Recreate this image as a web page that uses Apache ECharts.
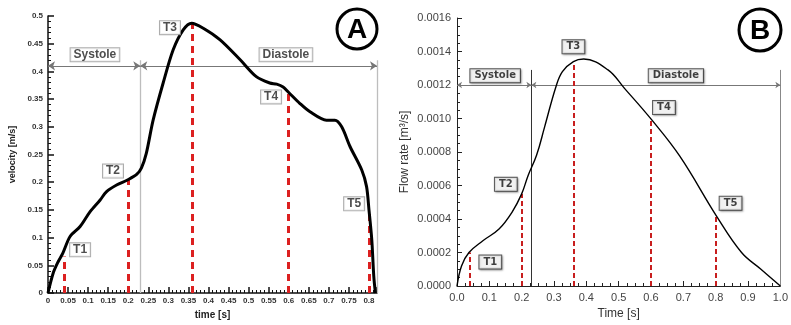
<!DOCTYPE html>
<html><head><meta charset="utf-8">
<script src="https://cdn.jsdelivr.net/npm/echarts@6/dist/echarts.min.js"></script>
<style>html,body{margin:0;padding:0;background:#fff}#c{width:791px;height:325px}</style>
</head><body><div id="c"></div>
<script>
// Panel A: velocity [m/s] vs time [s]
const timeA = [0,0.013,0.025,0.037,0.055,0.08,0.105,0.13,0.146,0.171,0.198,0.221,0.233,0.245,0.262,0.287,0.312,0.337,0.358,0.387,0.429,0.479,0.52,0.553,0.57,0.586,0.6,0.628,0.653,0.694,0.715,0.732,0.753,0.782,0.794,0.80,0.807,0.812,0.816];
const velA  = [0,0.036,0.056,0.072,0.102,0.12,0.147,0.168,0.183,0.195,0.204,0.214,0.226,0.252,0.312,0.379,0.439,0.475,0.487,0.478,0.457,0.421,0.39,0.379,0.377,0.372,0.362,0.342,0.327,0.312,0.312,0.30,0.264,0.222,0.192,0.15,0.096,0.03,0];
// Panel B: flow rate [m3/s] vs time [s]
const timeB = [0,0.014,0.037,0.08,0.13,0.17,0.2,0.22,0.246,0.271,0.306,0.326,0.36,0.392,0.467,0.518,0.603,0.689,0.805,0.88,0.94,1.0];
const flowB = [0,0.00012,0.0002,0.00027,0.00034,0.00044,0.00055,0.00066,0.00078,0.00095,0.00119,0.00128,0.00134,0.001355,0.00129,0.00118,0.00099,0.000775,0.00041,0.0002,0.0001,0];
// Time instants T1..T5
const markNames = ['T1','T2','T3','T4','T5'];
const markTimes = [0.04,0.2,0.36,0.6,0.8];
const markVelA  = [0.066,0.204,0.487,0.362,0.15];
const markFlowB = [0.0002,0.00055,0.00134,0.001,0.00042];
// phase split
const systoleEnd = 0.23;
const phaseLevelA = 0.41, phaseTopA = 0.42, endA = 0.82;
const phaseLevelB = 0.0012, phaseTopB = 0.00129, endB = 1.0;
// tick intervals
const ticksA_x = 0.05, ticksA_y = 0.05, ticksB_x = 0.1, ticksB_y = 0.0002;

// annotation box anchors (data coords)
const boxA = [['Systole',0.117,0.430],['Diastole',0.593,0.430],['T1',0.08,0.078],['T2',0.162,0.220],['T3',0.304,0.479],['T4',0.556,0.354],['T5',0.763,0.161]];
const boxB = [['Systole',0.118,0.001255],['Diastole',0.677,0.001255],['T1',0.103,0.000143],['T2',0.151,0.000607],['T3',0.36,0.001428],['T4',0.64,0.001065],['T5',0.846,0.000494]];

const chart = echarts.init(document.getElementById('c'), null, {renderer:'canvas'});
const fA = 'Liberation Sans, Arial, sans-serif';
const fB = 'DejaVu Sans, Verdana, sans-serif';

function boxSeries(list, xi, yi, style){
  return {type:'scatter', xAxisIndex:xi, yAxisIndex:yi, symbolSize:1, itemStyle:{color:'rgba(0,0,0,0)'}, z:10,
    data: list.map(b=>({value:[b[1],b[2]], name:b[0], label:{fontSize: b[0].length>2 ? style.big : style.small}})),
    label:{show:true, position:'inside', formatter:p=>p.name, color:style.color, fontWeight:'bold', fontFamily:style.font,
      backgroundColor:'#fff', borderColor:style.border, borderWidth:style.bw, padding:style.pad,
      shadowColor:style.shadow, shadowBlur:style.shadowBlur, shadowOffsetX:1, shadowOffsetY:1}};
}

const option = {
  animation:false,
  grid:[{left:48, top:16, width:329, height:277},{left:457, top:18, width:331, height:269}],
  xAxis:[
    {gridIndex:0, type:'value', min:0, max:endA, interval:ticksA_x, name:'time [s]', nameLocation:'middle', nameGap:14,
     nameTextStyle:{fontFamily:fA, fontWeight:'bold', fontSize:10, color:'#222'},
     axisLine:{lineStyle:{color:'#111', width:1.5}}, axisTick:{inside:true, length:6, lineStyle:{color:'#111', width:1.5}},
     minorTick:{show:true, splitNumber:5, length:3, lineStyle:{color:'#111'}},
     axisLabel:{fontFamily:fA, fontWeight:'bold', fontSize:8, color:'#333', margin:4, showMaxLabel:false}, splitLine:{show:false}},
    {gridIndex:1, type:'value', min:0, max:endB, interval:ticksB_x, name:'Time [s]', nameLocation:'middle', nameGap:22,
     nameTextStyle:{fontFamily:fA, fontSize:12, color:'#333'},
     axisLine:{lineStyle:{color:'#222', width:1}}, axisTick:{inside:true, length:5, lineStyle:{color:'#222'}},
     minorTick:{show:true, splitNumber:4, length:3, lineStyle:{color:'#222'}},
     axisLabel:{fontFamily:fA, fontSize:11, color:'#444', margin:6, formatter:v=>v.toFixed(1)}, splitLine:{show:false}}
  ],
  yAxis:[
    {gridIndex:0, type:'value', min:0, max:0.5, interval:ticksA_y, name:'velocity [m/s]', nameLocation:'middle', nameGap:31,
     nameTextStyle:{fontFamily:fA, fontWeight:'bold', fontSize:9, color:'#222'},
     axisLine:{show:true, lineStyle:{color:'#111', width:1.5}}, axisTick:{show:true, inside:true, length:6, lineStyle:{color:'#111', width:1.5}},
     minorTick:{show:true, splitNumber:5, length:3, lineStyle:{color:'#111'}},
     axisLabel:{fontFamily:fA, fontWeight:'bold', fontSize:8, color:'#333', margin:5}, splitLine:{show:false}},
    {gridIndex:1, type:'value', min:0, max:0.0016, interval:ticksB_y, name:'Flow rate [m³/s]', nameLocation:'middle', nameGap:46,
     nameTextStyle:{fontFamily:fA, fontSize:12, color:'#333'},
     axisLine:{show:true, lineStyle:{color:'#222', width:1}}, axisTick:{show:true, inside:true, length:5, lineStyle:{color:'#222'}},
     minorTick:{show:true, splitNumber:4, length:3, lineStyle:{color:'#222'}},
     axisLabel:{fontFamily:fA, fontSize:11, color:'#444', margin:6, formatter:v=>v.toFixed(4)}, splitLine:{show:false}}
  ],
  series:[
    // phase lines A
    {type:'lines', coordinateSystem:'cartesian2d', xAxisIndex:0, yAxisIndex:0, z:2,
     lineStyle:{color:'#bdbdbd', width:1.3, opacity:1},
     data:[{coords:[[systoleEnd,0],[systoleEnd,phaseTopA]]},{coords:[[endA,0],[endA,phaseTopA]]}]},
    {type:'lines', coordinateSystem:'cartesian2d', xAxisIndex:0, yAxisIndex:0, z:3,
     symbol:['arrow','arrow'], symbolSize:[7,7], lineStyle:{color:'#777', width:1, opacity:1},
     data:[{coords:[[0,phaseLevelA],[systoleEnd,phaseLevelA]]},{coords:[[systoleEnd,phaseLevelA],[endA,phaseLevelA]]}]},
    // phase lines B
    {type:'lines', coordinateSystem:'cartesian2d', xAxisIndex:1, yAxisIndex:1, z:2,
     lineStyle:{color:'#333', width:1, opacity:1},
     data:[{coords:[[systoleEnd,0],[systoleEnd,phaseTopB]]},{coords:[[endB,0],[endB,phaseTopB]], lineStyle:{color:'#888', opacity:1}}]},
    {type:'lines', coordinateSystem:'cartesian2d', xAxisIndex:1, yAxisIndex:1, z:3,
     symbol:['arrow','arrow'], symbolSize:[5,5], lineStyle:{color:'#777', width:1, opacity:1},
     data:[{coords:[[0,phaseLevelB],[systoleEnd,phaseLevelB]]},{coords:[[systoleEnd,phaseLevelB],[endB,phaseLevelB]]}]},
    // red dashed marks
    {type:'lines', coordinateSystem:'cartesian2d', xAxisIndex:0, yAxisIndex:0, z:4,
     lineStyle:{color:'#dc2020', width:3, type:[7,5], opacity:1},
     data: markTimes.map((t,i)=>({coords:[[t,0],[t,markVelA[i]]]}))},
    {type:'lines', coordinateSystem:'cartesian2d', xAxisIndex:1, yAxisIndex:1, z:4,
     lineStyle:{color:'#c81e1e', width:2, type:[5,3], opacity:1},
     data: markTimes.map((t,i)=>({coords:[[t,0],[t,markFlowB[i]]]}))},
    // curves
    {type:'line', xAxisIndex:0, yAxisIndex:0, z:5, smooth:0.3, showSymbol:false,
     lineStyle:{color:'#000', width:3}, data: timeA.map((t,i)=>[t,velA[i]])},
    {type:'line', xAxisIndex:1, yAxisIndex:1, z:5, smooth:0.4, showSymbol:false,
     lineStyle:{color:'#000', width:1.4}, data: timeB.map((t,i)=>[t,flowB[i]])},
    boxSeries(boxA,0,0,{big:12, small:12, color:'#222', font:fA, border:'#999', bw:1, pad:[1,3,0,3], shadow:'rgba(0,0,0,0)', shadowBlur:0}),
    boxSeries(boxB,1,1,{big:10, small:10, color:'#111', font:fB, border:'#333', bw:1, pad:[2,4,1,4], shadow:'rgba(0,0,0,0.35)', shadowBlur:2})
  ],
  graphic:[
    {type:'circle', shape:{cx:357, cy:29, r:20}, style:{fill:'#fff', stroke:'#000', lineWidth:3}, z:20},
    {type:'text', x:357, y:30, style:{text:'A', fontSize:28, fontWeight:'bold', fontFamily:fA, fill:'#000', align:'center', verticalAlign:'middle'}, z:21},
    {type:'circle', shape:{cx:760, cy:30, r:21}, style:{fill:'#fff', stroke:'#000', lineWidth:3}, z:20},
    {type:'text', x:760, y:31, style:{text:'B', fontSize:28, fontWeight:'bold', fontFamily:fA, fill:'#000', align:'center', verticalAlign:'middle'}, z:21}
  ]
};
chart.setOption(option);
</script></body></html>
